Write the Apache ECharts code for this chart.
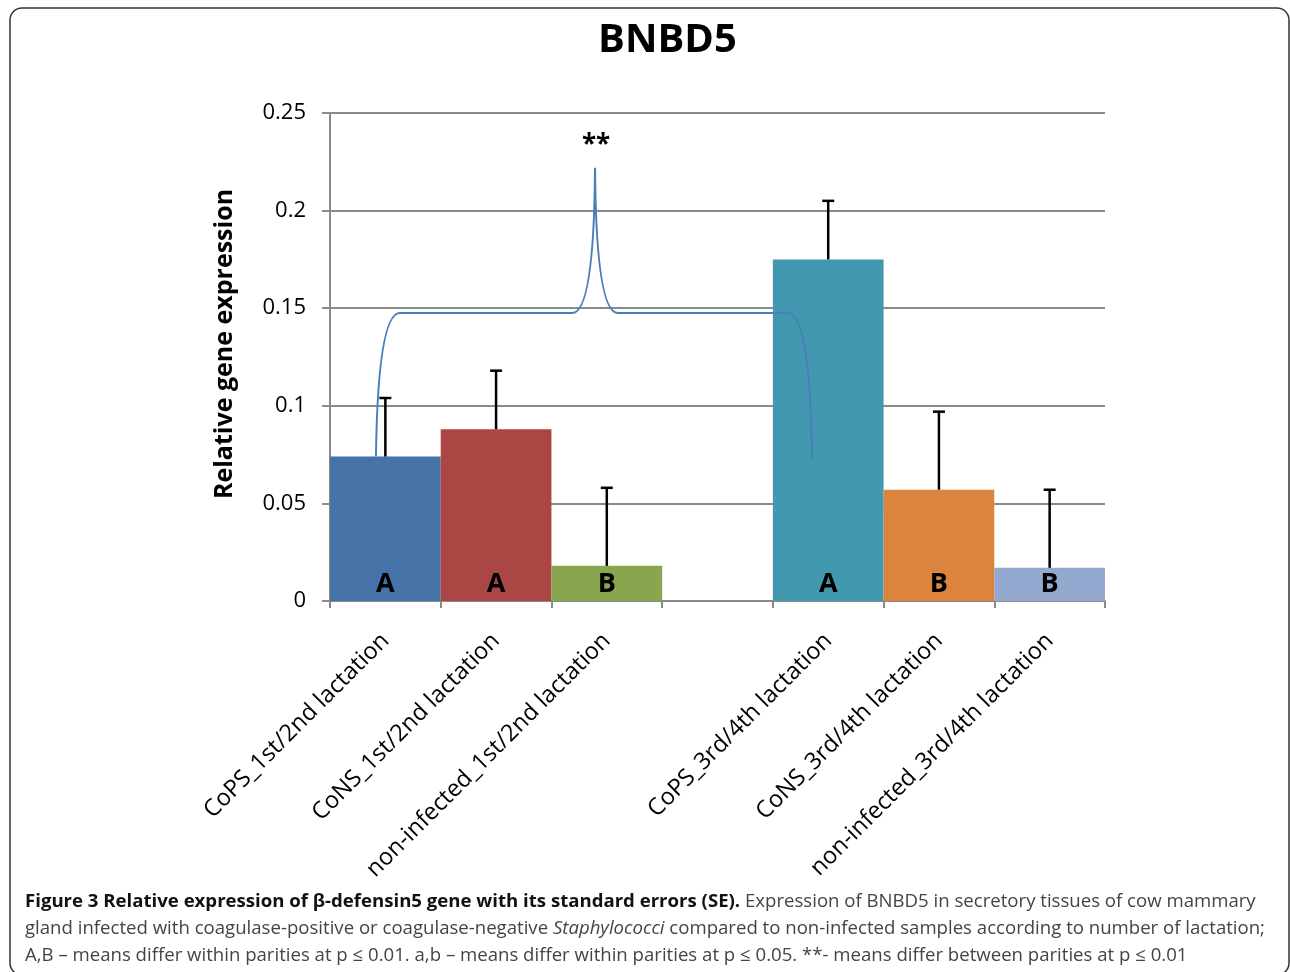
<!DOCTYPE html>
<html>
<head>
<meta charset="utf-8">
<script src="https://cdn.jsdelivr.net/npm/echarts@6/dist/echarts.min.js"></script>
<style>
html,body{margin:0;padding:0;background:#fff;}
#chart{width:1290px;height:972px;}
</style>
</head>
<body>
<div id="chart"></div>
<script>
// ---- data ----
const categories = [
  'CoPS_1st/2nd lactation',
  'CoNS_1st/2nd lactation',
  'non-infected_1st/2nd lactation',
  '',
  'CoPS_3rd/4th lactation',
  'CoNS_3rd/4th lactation',
  'non-infected_3rd/4th lactation'
];
const means = [0.074, 0.088, 0.018, null, 0.175, 0.057, 0.017];
const stdErrors = [0.030, 0.030, 0.040, null, 0.030, 0.040, 0.040];
const groupLetters = ['A', 'A', 'B', '', 'A', 'B', 'B'];
const barColors = ['#4572A7', '#AA4643', '#89A54E', '#ffffff', '#4198AF', '#DB843D', '#93A9CF'];

// significance bracket between parities (data coordinates: category index, value)
const bracketLeft = [-0.085, 0.074];
const bracketRight = [3.854, 0.073];
const bracketPeak = [1.894, 0.222];
const bracketLevel = 0.1475;
const bracketLabel = '**';

const yMin = 0, yMax = 0.25, yStep = 0.05;

const FONT = '"Open Sans", "Noto Sans", sans-serif';

const chart = echarts.init(document.getElementById('chart'), null, {renderer: 'canvas'});

const barData = means.map((v, i) => ({
  value: v == null ? '-' : v,
  itemStyle: {color: barColors[i]}
}));

const errData = [];
means.forEach((v, i) => { if (v != null) errData.push([i, v, stdErrors[i]]); });

const option = {
  backgroundColor: '#ffffff',
  animation: false,
  title: {
    text: 'BNBD5',
    left: 593,
    top: 16,
    textStyle: {fontFamily: FONT, fontSize: 40, fontWeight: 'bold', color: '#000'}
  },
  grid: {left: 330, right: 185, top: 113, bottom: 371, containLabel: false},
  xAxis: [
    {
      type: 'category',
      data: categories,
      axisLine: {lineStyle: {color: '#8a8a8a', width: 2}},
      axisTick: {show: true, length: 7, lineStyle: {color: '#8a8a8a', width: 2}},
      axisLabel: {
        rotate: 45, interval: 0, margin: 36,
        fontFamily: FONT, fontSize: 23.5, color: '#000'
      },
      splitLine: {show: false}
    },
    {
      type: 'value', min: -0.5, max: 6.5, show: false
    }
  ],
  yAxis: {
    type: 'value',
    min: yMin, max: yMax, interval: yStep,
    axisLine: {show: true, onZero: false, lineStyle: {color: '#8a8a8a', width: 2}},
    axisTick: {show: true, length: 8, lineStyle: {color: '#8a8a8a', width: 2}},
    axisLabel: {margin: 24, fontFamily: FONT, fontSize: 22, color: '#000'},
    splitLine: {show: true, lineStyle: {color: '#8a8a8a', width: 2}}
  },
  series: [
    {
      type: 'bar',
      data: barData,
      barCategoryGap: '0%',
      barGap: '0%',
      z: 2,
      label: {
        show: true,
        position: 'insideBottom',
        distance: 3,
        formatter: p => groupLetters[p.dataIndex],
        fontFamily: FONT, fontSize: 27, fontWeight: 'bold', color: '#000'
      }
    },
    {
      type: 'custom',
      xAxisIndex: 0,
      data: errData,
      z: 5,
      renderItem: function (params, api) {
        const i = api.value(0);
        const m = api.value(1);
        const se = api.value(2);
        const p0 = api.coord([i, m]);
        const p1 = api.coord([i, m + se]);
        return {
          type: 'group',
          children: [
            {type: 'line', shape: {x1: p0[0], y1: p0[1], x2: p1[0], y2: p1[1]}, style: {stroke: '#000', lineWidth: 2.5}},
            {type: 'line', shape: {x1: p1[0] - 6, y1: p1[1], x2: p1[0] + 6, y2: p1[1]}, style: {stroke: '#000', lineWidth: 2.5}}
          ]
        };
      }
    },
    {
      type: 'custom',
      xAxisIndex: 1,
      data: [bracketPeak],
      z: 6,
      renderItem: function (params, api) {
        const pL = api.coord(bracketLeft);
        const pR = api.coord(bracketRight);
        const pk = api.coord(bracketPeak);
        const yl = api.coord([0, bracketLevel])[1];
        const r = 24, w = 23;
        const d = [
          'M', pL[0], pL[1],
          'Q', pL[0] + 2, yl, pL[0] + r, yl,
          'L', pk[0] - w, yl,
          'Q', pk[0] - 1, yl, pk[0], pk[1],
          'Q', pk[0] + 1, yl, pk[0] + w, yl,
          'L', pR[0] - r, yl,
          'Q', pR[0] - 2, yl, pR[0], pR[1]
        ].join(' ');
        return {
          type: 'group',
          children: [
            {type: 'path', shape: {pathData: d}, style: {fill: null, stroke: '#4A7EBB', lineWidth: 2}},
            {type: 'text', x: pk[0] + 1, y: pk[1] - 22, style: {text: bracketLabel, font: 'bold 26px ' + FONT, fill: '#000', align: 'center', verticalAlign: 'middle'}}
          ]
        };
      }
    }
  ],
  graphic: [
    {
      type: 'rect',
      shape: {x: 10, y: 8, width: 1279, height: 967, r: 12},
      style: {fill: null, stroke: '#333', lineWidth: 1.5},
      silent: true
    },
    {
      type: 'text',
      x: 225, y: 344,
      rotation: Math.PI / 2,
      style: {
        text: 'Relative gene expression',
        font: 'bold 25px ' + FONT,
        fill: '#000', align: 'center', verticalAlign: 'middle'
      }
    },
    {
      type: 'text',
      x: 25, y: 888,
      style: {
        text: '{b|Figure 3 Relative expression of β-defensin5 gene with its standard errors (SE).}{r| Expression of BNBD5 in secretory tissues of cow mammary}\n' +
              '{r|gland infected with coagulase-positive or coagulase-negative }{i|Staphylococci}{r| compared to non-infected samples according to number of lactation;}\n' +
              '{r|A,B – means differ within parities at p ≤ 0.01. a,b – means differ within parities at p ≤ 0.05. **- means differ between parities at p ≤ 0.01}',
        align: 'left',
        verticalAlign: 'top',
        lineHeight: 27,
        rich: {
          b: {fontFamily: FONT, fontSize: 18.6, fontWeight: 'bold', fill: '#111', lineHeight: 27},
          r: {fontFamily: FONT, fontSize: 18.6, fill: '#444', lineHeight: 27},
          i: {fontFamily: FONT, fontSize: 18.6, fontStyle: 'italic', fill: '#444', lineHeight: 27}
        }
      }
    }
  ]
};
chart.setOption(option);
</script>
</body>
</html>
